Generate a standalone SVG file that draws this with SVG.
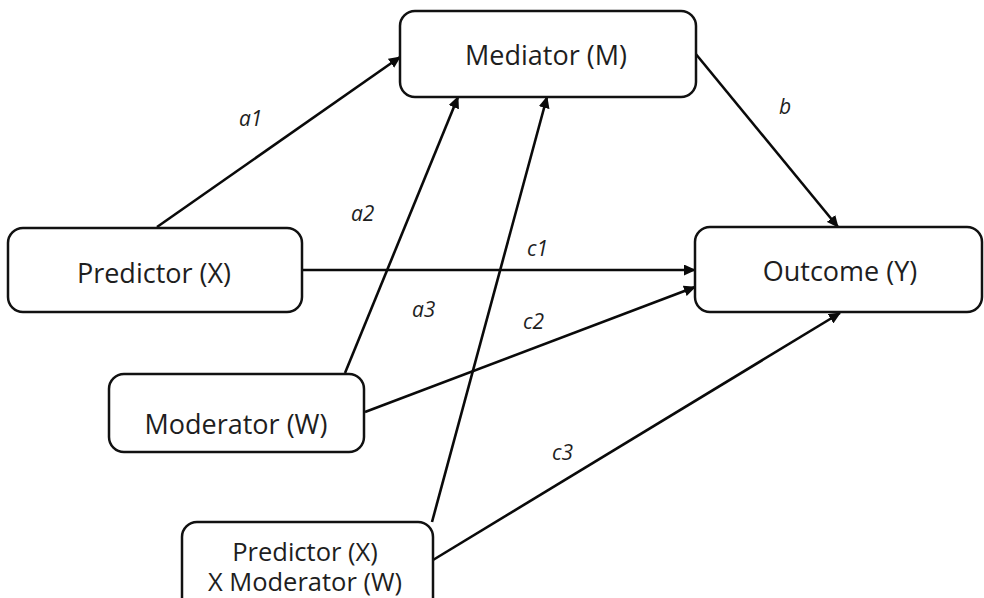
<svg xmlns="http://www.w3.org/2000/svg" width="984" height="598" viewBox="0 0 984 598">
  <style>
    .box { fill: #ffffff; stroke: #111111; stroke-width: 2.5; }
    .node-text { font-family: "Open Sans", "Liberation Sans", sans-serif; font-size: 27px; fill: #1e1e1e; text-anchor: middle; }
    .node-text.small { font-size: 25.5px; }
    .edge { fill: none; stroke: #0a0a0a; stroke-width: 2.6; marker-end: url(#arrow); }
    .edge-label { font-family: "Open Sans", "Liberation Sans", sans-serif; font-size: 21px; font-style: italic; fill: #1e1e1e; }
  </style>
  <defs>
    <marker id="arrow" markerUnits="userSpaceOnUse" markerWidth="12" markerHeight="11" refX="11" refY="5.5" orient="auto">
      <path d="M0,0 L12,5.5 L0,11 z" fill="#0a0a0a"/>
    </marker>
  </defs>
  <rect width="984" height="598" fill="#ffffff"/>

  <!-- connectors -->
  <g id="connectors">
    <line class="edge" x1="157" y1="227" x2="400" y2="57"/>
    <line class="edge" x1="695" y1="53" x2="838" y2="227"/>
    <line class="edge" x1="302" y1="270" x2="695" y2="270"/>
    <line class="edge" x1="345" y1="373" x2="458" y2="97"/>
    <line class="edge" x1="365" y1="412" x2="695" y2="287"/>
    <line class="edge" x1="432" y1="522" x2="547" y2="97"/>
    <line class="edge" x1="433" y1="560" x2="840" y2="313"/>
    <text class="edge-label" x="239" y="126">a1</text>
    <text class="edge-label" x="779" y="114">b</text>
    <text class="edge-label" x="351" y="221">a2</text>
    <text class="edge-label" x="527" y="256">c1</text>
    <text class="edge-label" x="412" y="317">a3</text>
    <text class="edge-label" x="523" y="329">c2</text>
    <text class="edge-label" x="552" y="460">c3</text>
  </g>

  <g id="mediator">
    <rect class="box" x="400" y="11" width="296" height="86" rx="15"/>
    <text class="node-text" x="546" y="65">Mediator (M)</text>
  </g>
  <g id="predictor">
    <rect class="box" x="8" y="228" width="294" height="84" rx="15"/>
    <text class="node-text" x="154" y="283">Predictor (X)</text>
  </g>
  <g id="outcome">
    <rect class="box" x="695" y="227" width="287" height="85" rx="15"/>
    <text class="node-text" x="840" y="281">Outcome (Y)</text>
  </g>
  <g id="moderator">
    <rect class="box" x="109" y="374" width="255" height="78" rx="15"/>
    <text class="node-text" x="236" y="434">Moderator (W)</text>
  </g>
  <g id="interaction">
    <rect class="box" x="182" y="522" width="251" height="96" rx="15"/>
    <text class="node-text small" x="305" y="561">Predictor (X)</text>
    <text class="node-text small" x="305" y="591">X Moderator (W)</text>
  </g>
</svg>
